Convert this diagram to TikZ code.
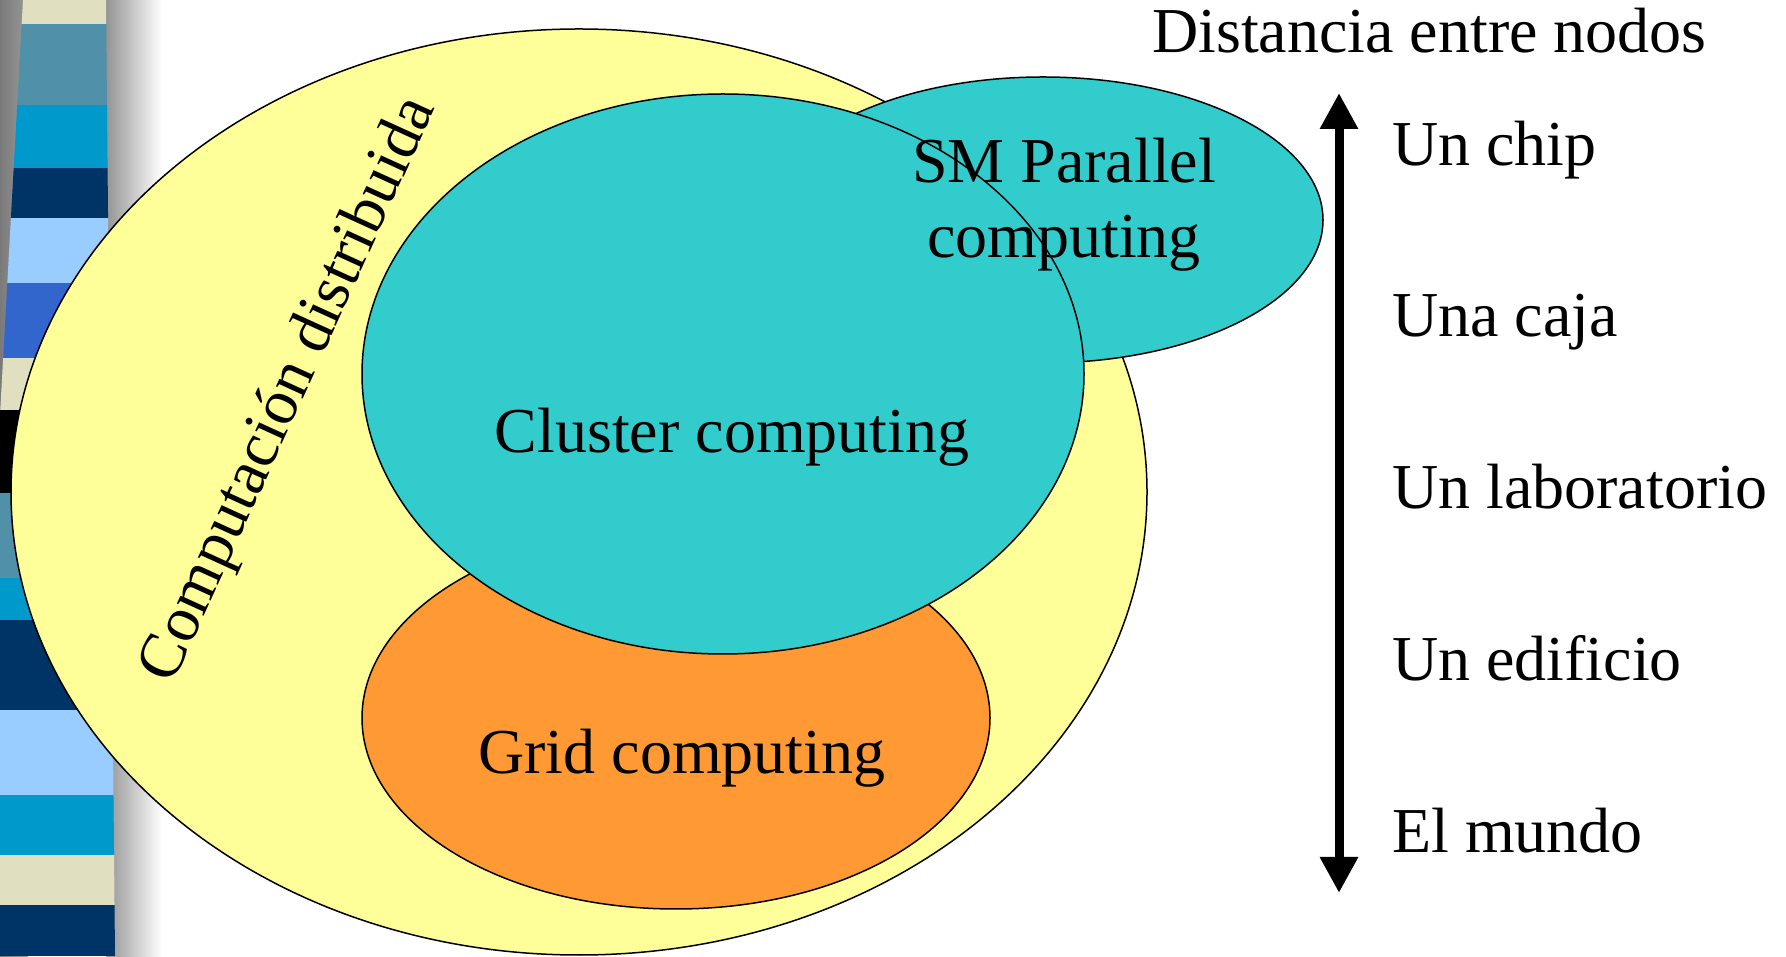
\documentclass[tikz,border=0pt]{standalone}
\usepackage{fontspec}
\setmainfont{Liberation Serif}
\usepackage{tikz}
\usetikzlibrary{arrows.meta}
\definecolor{pale}{HTML}{FFFF99}
\definecolor{cyanfill}{HTML}{33CCCC}
\definecolor{orng}{HTML}{FF9933}
\definecolor{sbeige}{HTML}{E0E0C0}
\definecolor{ssteel}{HTML}{5090A8}
\definecolor{scyan}{HTML}{0099CC}
\definecolor{snavy}{HTML}{003366}
\definecolor{slight}{HTML}{99CCFF}
\definecolor{sroyal}{HTML}{3366CC}

\begin{document}
\begin{tikzpicture}[x=1pt,y=1pt,
		txt/.style={font=\fontsize{64}{75}\selectfont, inner sep=0pt},
		blob/.style={draw=black, line width=1.5pt}]
		\useasboundingbox (0,0) rectangle (1786,956);
		\fill [left color=black!52, right color=black!40] (0,0) rectangle (28,956);
		\fill [left color=black!42, right color=white] (106,0) rectangle (162,956);
		\begin{scope}
			\clip (23,956) -- (106,956) -- (115,0) -- (0,0) -- (0,541) -- cycle;
			\foreach \a/\b/\c in {956/932/sbeige, 932/851/ssteel, 851/788/scyan, 788/738/snavy, 738/673/slight, 673/598/sroyal, 598/546/sbeige, 546/463/black, 463/378/ssteel, 378/336/scyan, 336/246/snavy, 246/161/slight, 161/101/scyan, 101/51/sbeige, 51/0/snavy}
				\fill [\c] (0,\a) rectangle (120,\b);
		\end{scope}
		\coordinate (Y) at (579,464);
		\coordinate (S) at (1043,736);
		\coordinate (G) at (676,238);
		\coordinate (K) at (723,582);
		\draw [blob, fill=pale] (Y) ellipse [x radius=568, y radius=463];
		\draw [blob, fill=cyanfill] (S) ellipse [x radius=280, y radius=143];
		\draw [blob, fill=orng] (G) ellipse [x radius=314, y radius=191];
		\draw [blob, fill=cyanfill] (K) ellipse [x radius=361, y radius=280];
		\node [txt, rotate=65.5] (CD) at (290,566) {Computación distribuida};
		\node [txt, align=center] (SP) at (1064,751) {SM Parallel\\computing};
		\node [txt, anchor=base] (CC) at (732,503) {Cluster computing};
		\node [txt, anchor=base] (GC) at (682,182) {Grid computing};
		\node [txt, anchor=base west] (D) at (1152,903) {Distancia entre nodos};
		\node [txt, anchor=base west] (L1) at (1392,790) {Un chip};
		\node [txt, anchor=base west] (L2) at (1392,619) {Una caja};
		\node [txt, anchor=base west] (L3) at (1392,447) {Un laboratorio};
		\node [txt, anchor=base west] (L4) at (1392,275) {Un edificio};
		\node [txt, anchor=base west] (L5) at (1392,103) {El mundo};
		\coordinate (T) at (1339,863);
		\coordinate (B) at (1339,63);
		\draw [line width=9pt, {Triangle[width=36pt,length=36pt]}-{Triangle[width=36pt,length=36pt]}] (T) -- (B);
\end{tikzpicture}
\end{document}
